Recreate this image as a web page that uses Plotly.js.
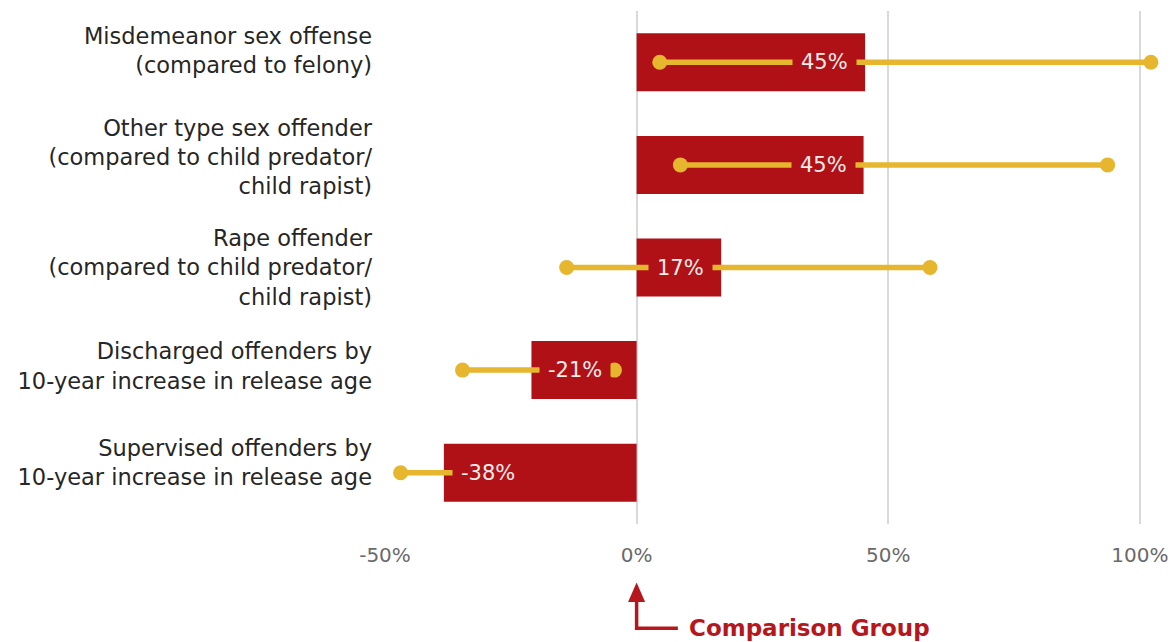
<!DOCTYPE html>
<html>
<head>
<meta charset="utf-8">
<script src="https://cdn.plot.ly/plotly-3.0.1.min.js"></script>
<style>html,body{margin:0;padding:0;background:#fff;}#chart{width:1176px;height:642px;}</style>
</head>
<body>
<div id="chart"></div>
<script>
var categories = [
  "Misdemeanor sex offense<br>(compared to felony)",
  "Other type sex offender<br>(compared to child predator/<br>child rapist)",
  "Rape offender<br>(compared to child predator/<br>child rapist)",
  "Discharged offenders by<br>10-year increase in release age",
  "Supervised offenders by<br>10-year increase in release age"
];
var values = [45.4, 45.1, 16.8, -20.9, -38.3];
var lowerCI = [4.6, 8.7, -13.9, -34.6, -46.9];
var upperCI = [102.2, 93.6, 58.3, -4.4, -31];
var xTicks = [-50, 0, 50, 100];
var xTickLabels = ["-50%", "0%", "50%", "100%"];

var RED = "#B01116";
var GOLD = "#E6B62E";
var FONT = "DejaVu Sans, sans-serif";
// small vertical nudges (px, negative = up) of the category labels, as in the original layout
var labelNudgePx = [-12, -8, 0, -4, -10];
var PX_PER_ROW = 102.6;

var idx = categories.map(function(_, i){ return i; });

var traces = [{
  type: "bar",
  orientation: "h",
  x: values,
  y: idx,
  width: 0.565,
  marker: {color: RED},
  hoverinfo: "none",
  showlegend: false
}];

idx.forEach(function(i){
  traces.push({
    type: "scatter",
    mode: "lines+markers",
    x: [lowerCI[i], upperCI[i]],
    y: [i, i],
    line: {color: GOLD, width: 5.5},
    marker: {color: GOLD, size: 15},
    cliponaxis: false,
    hoverinfo: "none",
    showlegend: false
  });
});

var annotations = idx.map(function(i){
  var v = values[i];
  return {
    x: v, y: i, xref: "x", yref: "y",
    text: Math.round(v) + "%",
    showarrow: false,
    xanchor: v >= 0 ? "right" : "left",
    xshift: v >= 0 ? -8 : 8,
    yanchor: "middle",
    bgcolor: RED,
    borderpad: 8,
    font: {family: FONT, size: 21, color: "#F5ECEC"}
  };
});

annotations.push({
  x: 10, y: -0.203, xref: "x", yref: "paper",
  text: "<b>Comparison Group</b>",
  showarrow: false,
  xanchor: "left", yanchor: "middle",
  font: {family: FONT, size: 23, color: "#B5171D"}
});

var shapes = [
  {type: "path", xref: "x", yref: "paper",
   path: "M 0,-0.148 L 0,-0.203 L 8.2,-0.203",
   line: {color: "#B5171D", width: 3.5}},
  {type: "path", xref: "x", yref: "paper",
   path: "M 0,-0.114 L -1.7,-0.152 L 1.7,-0.152 Z",
   fillcolor: "#B5171D", line: {color: "#B5171D", width: 0}}
];

var layout = {
  width: 1176, height: 642,
  margin: {l: 385, r: 11, t: 11, b: 118},
  paper_bgcolor: "#ffffff",
  plot_bgcolor: "#ffffff",
  font: {family: FONT},
  xaxis: {
    range: [-50, 105],
    tickvals: xTicks,
    ticktext: xTickLabels,
    showgrid: true,
    gridcolor: "#D9D9D9",
    gridwidth: 2,
    zeroline: false,
    showline: false,
    ticks: "",
    ticklabelstandoff: 17,
    tickfont: {family: FONT, size: 20, color: "#6A6A6A"},
    fixedrange: true
  },
  yaxis: {
    range: [4.5, -0.5],
    tickvals: idx.map(function(i){ return i + labelNudgePx[i] / PX_PER_ROW; }),
    ticktext: categories,
    showgrid: false,
    zeroline: false,
    showline: false,
    ticks: "",
    ticklabelstandoff: 12,
    tickfont: {family: FONT, size: 22.5, color: "#262626"},
    fixedrange: true
  },
  annotations: annotations,
  shapes: shapes,
  showlegend: false,
  bargap: 0.4
};

Plotly.newPlot("chart", traces, layout, {displayModeBar: false, staticPlot: true});
</script>
</body>
</html>
